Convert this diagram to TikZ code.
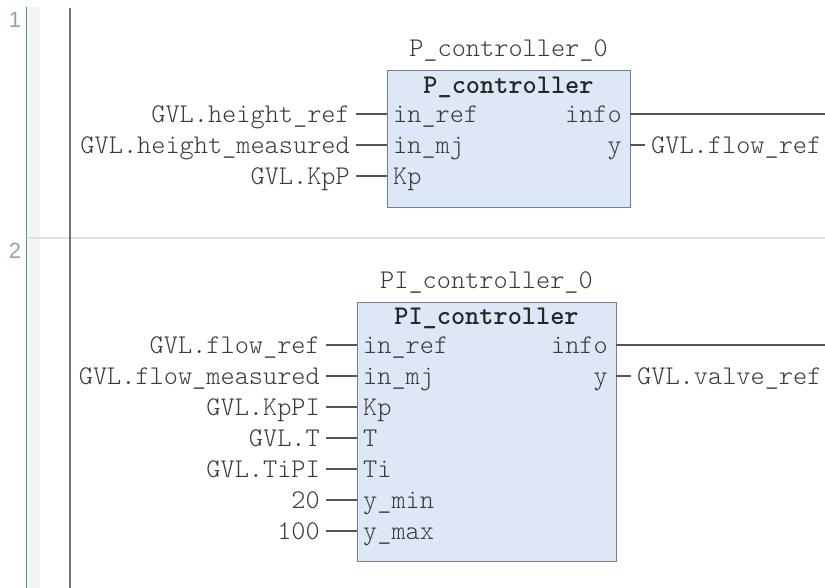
\documentclass[tikz,border=0pt]{standalone}
\usepackage{fontspec}
\newfontfamily\gutterfont{Liberation Sans}
\usetikzlibrary{positioning}
\definecolor{fbfill}{HTML}{DDE7F5}
\definecolor{fbline}{HTML}{6F7F99}
\definecolor{wiregray}{HTML}{555555}
\definecolor{txtgray}{HTML}{3A3A3A}
\definecolor{railgray}{HTML}{737373}
\definecolor{guttergray}{HTML}{F3F4F4}
\definecolor{guttergreen}{HTML}{4E9C8C}
\definecolor{sepgray}{HTML}{E2E2E2}
\definecolor{numgray}{HTML}{8FA8A3}
\tikzset{
  fbblock/.style={draw=fbline, fill=fbfill, line width=1.4pt, anchor=north west, inner sep=0pt},
  txt/.style={font=\ttfamily\fontseries{l}\fontsize{27}{30}\selectfont, text=txtgray, text height=17pt, text depth=0pt, inner sep=0pt},
  pinlbl/.style={txt, inner xsep=6pt},
  outlbl/.style={txt, inner xsep=8pt, anchor=east},
  varlbl/.style={txt, inner xsep=6pt},
  instname/.style={txt},
  fbtitle/.style={txt, font=\ttfamily\bfseries\fontsize{27}{30}\selectfont, text=black!85},
  wire/.style={draw=wiregray, line width=1.2pt},
  netnum/.style={font=\gutterfont\fontsize{22}{24}\selectfont, text=numgray, inner sep=0pt}
}
\begin{document}
\begin{tikzpicture}[x=1pt, y=-1pt]
\useasboundingbox[fill=white] (0,0) rectangle (825,588);
% gutter, separator and rails
\fill[guttergray] (27,7) rectangle (40,588);
\draw[sepgray, line width=1.5pt] (28,238) -- (825,238);
\draw[guttergreen, line width=1pt] (26,7) -- (26,588);
\draw[railgray, line width=2pt] (70,8) -- (70,588);
\node[netnum] (net1) at (15,20) {1};
\node[netnum] (net2) at (15,251) {2};

% network 1
\node[fbblock, minimum width=243pt, minimum height=137pt] (pc) at (387,70) {};
\node[instname] (pcname) at (508.5,48) {P\_controller\_0};
\node[fbtitle] (pctitle) at (508.5,85) {P\_controller};
\foreach \y/\pin/\var [count=\i] in {114/in\_ref/GVL.height\_ref, 145/in\_mj/GVL.height\_measured, 176/Kp/GVL.KpP}
{
    \coordinate (pcin\i) at (387,\y);
    \node[pinlbl, anchor=west] (pcpin\i) at (pcin\i) {\pin};
    \node[varlbl, left=31pt of pcin\i] (pcvar\i) {\var};
    \draw[wire] (pcvar\i) -- (pcin\i);
}
\coordinate (pcout1) at (630,114);
\coordinate (pcinfoend) at (825,114);
\node[outlbl] (pcinfo) at (pcout1) {info};
\draw[wire] (pcout1) -- (pcinfoend);
\coordinate (pcout2) at (630,145);
\node[outlbl] (pcy) at (pcout2) {y};
\node[varlbl, right=15pt of pcout2] (pcyvar) {GVL.flow\_ref};
\draw[wire] (pcout2) -- (pcyvar);

% network 2
\node[fbblock, minimum width=259pt, minimum height=259pt] (pic) at (357,302) {};
\node[instname] (picname) at (486.5,280) {PI\_controller\_0};
\node[fbtitle] (pictitle) at (486.5,316) {PI\_controller};
\foreach \y/\pin/\var [count=\i] in {345/in\_ref/GVL.flow\_ref, 376/in\_mj/GVL.flow\_measured, 407/Kp/GVL.KpPI, 438/T/GVL.T, 469/Ti/GVL.TiPI, 500/y\_min/20, 531/y\_max/100}
{
    \coordinate (picin\i) at (357,\y);
    \node[pinlbl, anchor=west] (picpin\i) at (picin\i) {\pin};
    \node[varlbl, left=31pt of picin\i] (picvar\i) {\var};
    \draw[wire] (picvar\i) -- (picin\i);
}
\coordinate (picout1) at (616,345);
\coordinate (picinfoend) at (825,345);
\node[outlbl] (picinfo) at (picout1) {info};
\draw[wire] (picout1) -- (picinfoend);
\coordinate (picout2) at (616,376);
\node[outlbl] (picy) at (picout2) {y};
\node[varlbl, right=15pt of picout2] (picyvar) {GVL.valve\_ref};
\draw[wire] (picout2) -- (picyvar);
\end{tikzpicture}
\end{document}
